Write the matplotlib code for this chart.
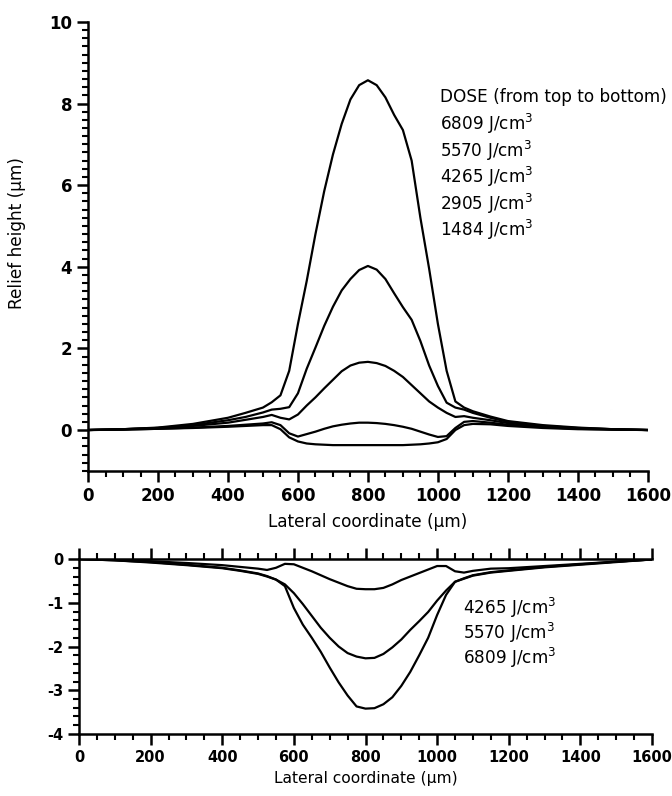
import numpy as np
import matplotlib.pyplot as plt
from matplotlib.ticker import MultipleLocator

plt.rcParams['font.family'] = ['DejaVu Sans']
plt.rcParams['mathtext.default'] = 'regular'
plt.rcParams['axes.unicode_minus'] = False

# lateral positions (um) where the profiles were read
x_pos = [0, 100, 200, 300, 400, 450,
         500, 525, 550, 575, 600, 625, 650, 675, 700, 725, 750, 775, 800,
         825, 850, 875, 900, 925, 950, 975, 1000, 1025, 1050, 1075, 1100,
         1150, 1200, 1300, 1400, 1500, 1600]

# upper panel: relief height (um) for each dose
h_6809 = [0, 0.02, 0.06, 0.15, 0.3, 0.42,
          0.55, 0.68, 0.85, 1.45, 2.6, 3.65, 4.8, 5.85, 6.75, 7.5, 8.1, 8.45, 8.57,
          8.45, 8.15, 7.72, 7.35, 6.6, 5.2, 3.95, 2.6, 1.45, 0.7, 0.55, 0.46,
          0.33, 0.22, 0.12, 0.06, 0.02, 0]
h_5570 = [0, 0.02, 0.05, 0.12, 0.24, 0.32,
          0.43, 0.5, 0.52, 0.56, 0.9, 1.5, 2.02, 2.55, 3.02, 3.42, 3.7, 3.92, 4.02,
          3.93, 3.7, 3.35, 3.01, 2.7, 2.18, 1.58, 1.08, 0.67, 0.55, 0.5, 0.42,
          0.3, 0.2, 0.1, 0.05, 0.02, 0]
h_4265 = [0, 0.02, 0.05, 0.1, 0.18, 0.25,
          0.32, 0.37, 0.3, 0.26, 0.38, 0.6, 0.8, 1.02, 1.23, 1.44, 1.58, 1.65, 1.67,
          1.64, 1.57, 1.45, 1.3, 1.1, 0.9, 0.7, 0.55, 0.42, 0.32, 0.34, 0.3,
          0.24, 0.17, 0.09, 0.04, 0.02, 0]
h_2905 = [0, 0.01, 0.03, 0.06, 0.1, 0.13,
          0.16, 0.19, 0.12, -0.08, -0.16, -0.1, -0.04, 0.03, 0.09, 0.13, 0.16, 0.18, 0.18,
          0.17, 0.15, 0.12, 0.08, 0.03, -0.04, -0.11, -0.17, -0.15, 0.05, 0.2, 0.22,
          0.18, 0.13, 0.07, 0.03, 0.01, 0]
h_1484 = [0, 0.01, 0.03, 0.05, 0.08, 0.1,
          0.12, 0.12, 0.02, -0.18, -0.28, -0.33, -0.35, -0.36, -0.37, -0.37, -0.37, -0.37, -0.37,
          -0.37, -0.37, -0.37, -0.37, -0.36, -0.35, -0.33, -0.3, -0.22, 0.0, 0.12, 0.15,
          0.14, 0.1, 0.05, 0.02, 0.01, 0]

# lower panel: second set of profiles
d_4265 = [0, -0.02, -0.05, -0.09, -0.14, -0.18,
          -0.22, -0.25, -0.2, -0.11, -0.12, -0.2, -0.28, -0.37, -0.46, -0.54, -0.62, -0.68, -0.69,
          -0.69, -0.66, -0.58, -0.48, -0.4, -0.32, -0.24, -0.16, -0.16, -0.28, -0.31, -0.27,
          -0.22, -0.21, -0.16, -0.11, -0.06, -0.01]
d_5570 = [0, -0.03, -0.07, -0.13, -0.2, -0.26,
          -0.33, -0.39, -0.47, -0.58, -0.78, -1.03, -1.3, -1.57, -1.8, -2.0, -2.15, -2.23, -2.27,
          -2.26, -2.17, -2.02, -1.84, -1.62, -1.42, -1.21, -0.95, -0.72, -0.52, -0.44, -0.37,
          -0.3, -0.26, -0.18, -0.12, -0.06, -0.01]
d_6809 = [0, -0.03, -0.08, -0.14, -0.21, -0.27,
          -0.34, -0.4, -0.47, -0.62, -1.12, -1.5, -1.8, -2.12, -2.48, -2.82, -3.12, -3.37, -3.42,
          -3.41, -3.32, -3.16, -2.9, -2.58, -2.2, -1.8, -1.28, -0.82, -0.52, -0.45, -0.38,
          -0.31, -0.27, -0.19, -0.13, -0.07, -0.01]

top_doses = ['6809', '5570', '4265', '2905', '1484']
bottom_doses = ['4265', '5570', '6809']

fig = plt.figure(figsize=(6.72, 7.96), dpi=100)
ax1 = fig.add_axes([0.131, 0.4085, 0.833, 0.564])
ax2 = fig.add_axes([0.1176, 0.0779, 0.8526, 0.2198])

fs = 12.2
lw = 1.6

# upper panel
for h in [h_6809, h_5570, h_4265, h_2905, h_1484]:
    ax1.plot(x_pos, h, color='black', lw=lw)
ax1.set_xlim(0, 1600)
ax1.set_ylim(-1, 10)
ax1.spines['top'].set_visible(False)
ax1.spines['right'].set_visible(False)
ax1.xaxis.set_major_locator(MultipleLocator(200))
ax1.xaxis.set_minor_locator(MultipleLocator(50))
ax1.yaxis.set_major_locator(MultipleLocator(2))
ax1.yaxis.set_minor_locator(MultipleLocator(0.2))
ax1.set_xlabel('Lateral coordinate (µm)', fontsize=fs, labelpad=6)
ax1.set_ylabel('Relief height (µm)', fontsize=fs)
ax1.yaxis.set_label_coords(-0.11, 0.53)

ax1.text(1006, 8.16, 'DOSE (from top to bottom)', fontsize=fs, va='center')
for d, yy in zip(top_doses, [7.5, 6.85, 6.2, 5.55, 4.9]):
    ax1.text(1006, yy, d + ' J/cm$^3$', fontsize=fs, va='center')

# lower panel
for d in [d_4265, d_5570, d_6809]:
    ax2.plot(x_pos, d, color='black', lw=lw)
ax2.set_xlim(0, 1600)
ax2.set_ylim(-4, 0)
ax2.spines['right'].set_visible(False)
ax2.xaxis.set_major_locator(MultipleLocator(200))
ax2.xaxis.set_minor_locator(MultipleLocator(50))
ax2.yaxis.set_major_locator(MultipleLocator(1))
ax2.yaxis.set_minor_locator(MultipleLocator(0.2))
ax2.tick_params(axis='x', which='both', top=True)
ax2.set_xlabel('Lateral coordinate (µm)', fontsize=fs - 1, labelpad=4)
for d, yy in zip(bottom_doses, [-1.12, -1.69, -2.26]):
    ax2.text(1072, yy, d + ' J/cm$^3$', fontsize=fs, va='center')

for ax, tfs in ((ax1, 12), (ax2, 10.5)):
    for s in ax.spines.values():
        s.set_linewidth(1.8)
    ax.tick_params(which='major', direction='out', length=8, width=1.8, labelsize=tfs)
    ax.tick_params(which='minor', direction='out', length=4.5, width=1.5)
    for lab in ax.get_xticklabels() + ax.get_yticklabels():
        lab.set_fontweight('bold')

fig.savefig('out.png', dpi=100)
